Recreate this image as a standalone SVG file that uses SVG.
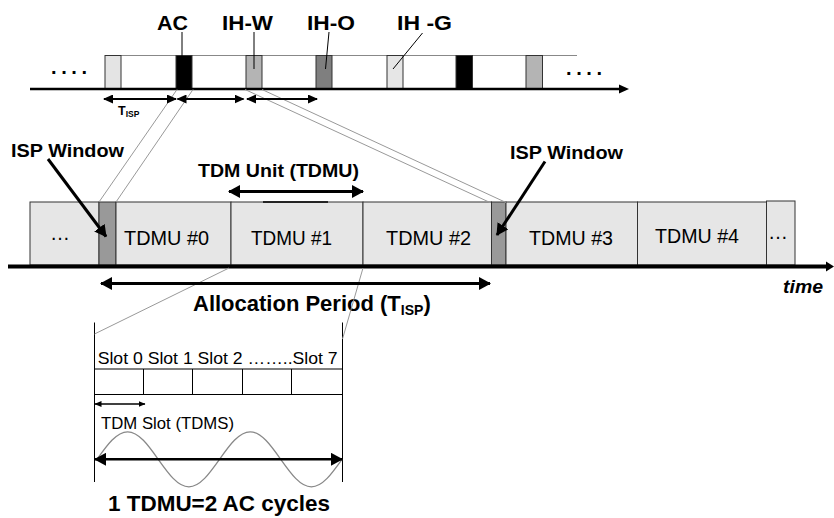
<svg xmlns="http://www.w3.org/2000/svg" width="834" height="518" viewBox="0 0 834 518">
<style>
text{font-family:"Liberation Sans",Arial,sans-serif;fill:#000}
.b{font-weight:bold}
.blk{stroke:#333;stroke-width:1}
.box{fill:#e6e6e6;stroke:#333;stroke-width:1}
.isp{fill:#999;stroke:#333;stroke-width:1}
.gl{stroke:#999;stroke-width:1;fill:none}
.ln{stroke:#000;stroke-width:1;fill:none}
</style>
<defs>
<marker id="hb" markerUnits="userSpaceOnUse" markerWidth="12" markerHeight="13" refX="11" refY="6.5" orient="auto-start-reverse"><path d="M0,0 L12,6.5 L0,13 z" fill="#000"/></marker>
<marker id="hm" markerUnits="userSpaceOnUse" markerWidth="10" markerHeight="9" refX="9" refY="4.5" orient="auto-start-reverse"><path d="M0,0 L10,4.5 L0,9 z" fill="#000"/></marker>
<marker id="hs" markerUnits="userSpaceOnUse" markerWidth="7" markerHeight="6" refX="6.5" refY="3" orient="auto-start-reverse"><path d="M0,0 L7,3 L0,6 z" fill="#000"/></marker>
</defs>
<rect width="834" height="518" fill="#fff"/>

<!-- top frame sequence -->
<g id="top-frame">
<line x1="105" y1="55.5" x2="577" y2="55.5" stroke="#888" stroke-width="1"/>
<rect class="blk" x="105" y="55.5" width="16" height="33.5" fill="#e4e4e4"/>
<rect class="blk" x="176" y="55.5" width="16" height="33.5" fill="#000"/>
<rect class="blk" x="246" y="55.5" width="16" height="33.5" fill="#b4b4b4"/>
<rect class="blk" x="316" y="55.5" width="16" height="33.5" fill="#7f7f7f"/>
<rect class="blk" x="387" y="55.5" width="16" height="33.5" fill="#e6e6e6"/>
<rect class="blk" x="456" y="55.5" width="16.5" height="33.5" fill="#000"/>
<rect class="blk" x="526" y="55.5" width="16.5" height="33.5" fill="#b4b4b4"/>
<line x1="30" y1="89" x2="622" y2="89" stroke="#000" stroke-width="2.5"/>
<path d="M619,84.5 L629,89 L619,93.5 z" fill="#000"/>
<text class="b" x="51" y="73.5" font-size="20" textLength="36" lengthAdjust="spacing">....</text>
<text class="b" x="566" y="75" font-size="20" textLength="36" lengthAdjust="spacing">....</text>
</g>

<g id="label-ac"><text class="b" x="157" y="29.5" font-size="21" textLength="31" lengthAdjust="spacingAndGlyphs">AC</text><line class="ln" x1="182" y1="32" x2="182" y2="56"/></g>
<g id="label-ihw"><text class="b" x="222" y="29.5" font-size="21" textLength="51" lengthAdjust="spacingAndGlyphs">IH-W</text><line class="ln" x1="254" y1="32" x2="254" y2="69"/></g>
<g id="label-iho"><text class="b" x="307" y="29.5" font-size="21" textLength="48" lengthAdjust="spacingAndGlyphs">IH-O</text><line class="ln" x1="329" y1="32" x2="325.5" y2="69"/></g>
<g id="label-ihg"><text class="b" x="397" y="29.5" font-size="21" textLength="55" lengthAdjust="spacingAndGlyphs">IH -G</text><line class="ln" x1="422.5" y1="33" x2="393" y2="69"/></g>

<g id="label-tisp"><text class="b" x="118" y="115" font-size="12.5">T<tspan font-size="8.5" dy="2">ISP</tspan></text></g>

<!-- bottom frame -->
<g id="box-dots-left"><rect class="box" x="30" y="202" width="69" height="63"/><text x="60" y="239.5" font-size="20" text-anchor="middle" textLength="26" lengthAdjust="spacing">…</text></g>
<g id="isp-left"><rect class="isp" x="99" y="202" width="17" height="63"/></g>
<g id="tdmu0"><rect class="box" x="116" y="202" width="115" height="63"/><text x="124" y="245" font-size="21" textLength="85" lengthAdjust="spacingAndGlyphs">TDMU #0</text></g>
<g id="tdmu1"><rect class="box" x="231" y="202" width="132" height="63"/><line x1="263" y1="202" x2="328" y2="202" stroke="#000" stroke-width="1.6"/><text x="251" y="245" font-size="21" textLength="81" lengthAdjust="spacingAndGlyphs">TDMU #1</text></g>
<g id="tdmu2"><rect class="box" x="363" y="202" width="128.5" height="63"/><text x="386" y="245" font-size="21" textLength="85" lengthAdjust="spacingAndGlyphs">TDMU #2</text></g>
<g id="isp-right"><rect class="isp" x="491.5" y="202" width="14.5" height="63"/></g>
<g id="tdmu3"><rect class="box" x="506" y="202" width="131.5" height="63"/><text x="529" y="245" font-size="21" textLength="84" lengthAdjust="spacingAndGlyphs">TDMU #3</text></g>
<g id="tdmu4"><rect class="box" x="637.5" y="202" width="129" height="63"/><text x="655" y="243" font-size="21" textLength="84" lengthAdjust="spacingAndGlyphs">TDMU #4</text></g>
<g id="box-dots-right"><rect class="box" x="766.5" y="201" width="28.5" height="64"/><text x="778" y="238.5" font-size="20" text-anchor="middle" textLength="18" lengthAdjust="spacing">…</text></g>

<g id="label-isp-left"><text class="b" x="11" y="157" font-size="17.5" textLength="113" lengthAdjust="spacingAndGlyphs">ISP Window</text></g>
<g id="label-isp-right"><text class="b" x="510" y="159" font-size="17.5" textLength="113" lengthAdjust="spacingAndGlyphs">ISP Window</text></g>
<g id="label-tdmu"><text class="b" x="198" y="177" font-size="18.5" textLength="161" lengthAdjust="spacingAndGlyphs">TDM Unit (TDMU)</text></g>
<g id="label-alloc"><text class="b" x="193" y="311" font-size="22">Allocation Period (T<tspan font-size="14" dy="4">ISP</tspan><tspan dy="-4">)</tspan></text></g>
<g id="label-time"><text class="b" x="783" y="293" font-size="18" font-style="italic" textLength="40" lengthAdjust="spacingAndGlyphs">time</text></g>

<!-- slot detail -->
<g id="slot-detail">
<line class="ln" x1="94.5" y1="322.5" x2="94.5" y2="482"/>
<line class="ln" x1="342.5" y1="322.5" x2="342.5" y2="482"/>
<rect x="94.5" y="369" width="248" height="25.5" fill="#fff" stroke="#000" stroke-width="1"/>
<line class="ln" x1="143.5" y1="369" x2="143.5" y2="394.5"/>
<line class="ln" x1="192.5" y1="369" x2="192.5" y2="394.5"/>
<line class="ln" x1="242.5" y1="369" x2="242.5" y2="394.5"/>
<line class="ln" x1="291.5" y1="369" x2="291.5" y2="394.5"/>
<text x="97.7" y="363.5" font-size="17" textLength="240" lengthAdjust="spacingAndGlyphs">Slot 0 Slot 1 Slot 2 ……..Slot 7</text>
<text x="101" y="429" font-size="17" textLength="133" lengthAdjust="spacingAndGlyphs">TDM Slot (TDMS)</text>
<path d="M97,459.3 C106.99,445.2 116.54,431.8 127.63,431.8 C138.71,431.8 148.26,445.2 158.25,459.3 C168.24,473.4 177.79,486.8 188.88,486.8 C199.96,486.8 209.51,473.4 219.5,459.3 C229.49,445.2 239.04,431.8 250.13,431.8 C261.21,431.8 270.76,445.2 280.75,459.3 C290.74,473.4 300.29,486.8 311.38,486.8 C322.46,486.8 332.01,473.4 342,459.3" fill="none" stroke="#888" stroke-width="1.3"/>
<text class="b" x="108" y="511" font-size="22" textLength="222" lengthAdjust="spacingAndGlyphs">1 TDMU=2 AC cycles</text>
</g>

<!-- connectors -->
<g id="connectors">
<line x1="8" y1="266.5" x2="828" y2="266.5" stroke="#000" stroke-width="4"/>
<path d="M826,261.5 L834,266.5 L826,271.5 z" fill="#000"/>
<line class="gl" x1="177" y1="89.5" x2="99" y2="202"/>
<line class="gl" x1="193" y1="89.5" x2="116" y2="202"/>
<line class="gl" x1="245" y1="89.5" x2="490" y2="202.5"/>
<line class="gl" x1="262" y1="89.5" x2="506" y2="202.5"/>
<line class="gl" x1="229" y1="268" x2="94.5" y2="334"/>
<line class="gl" x1="363" y1="268" x2="342.5" y2="339"/>
<line x1="104" y1="99" x2="176" y2="99" stroke="#000" stroke-width="2" marker-start="url(#hm)" marker-end="url(#hm)"/>
<line x1="177.5" y1="99" x2="243.5" y2="99" stroke="#000" stroke-width="2" marker-start="url(#hm)" marker-end="url(#hm)"/>
<line x1="247" y1="99" x2="317" y2="99" stroke="#000" stroke-width="2" marker-start="url(#hm)" marker-end="url(#hm)"/>
<line x1="229" y1="191.5" x2="363" y2="191.5" stroke="#000" stroke-width="3" marker-start="url(#hb)" marker-end="url(#hb)"/>
<line x1="48" y1="159" x2="106" y2="236.5" stroke="#000" stroke-width="3" marker-end="url(#hb)"/>
<line x1="545" y1="161.5" x2="497" y2="235" stroke="#000" stroke-width="3" marker-end="url(#hb)"/>
<line x1="101" y1="283.5" x2="490" y2="283.5" stroke="#000" stroke-width="3" marker-start="url(#hb)" marker-end="url(#hb)"/>
<line x1="95" y1="404" x2="145" y2="404" stroke="#000" stroke-width="1.3" marker-start="url(#hs)" marker-end="url(#hs)"/>
<line x1="95" y1="459.3" x2="342" y2="459.3" stroke="#000" stroke-width="2.5" marker-start="url(#hb)" marker-end="url(#hb)"/>
</g>
</svg>
